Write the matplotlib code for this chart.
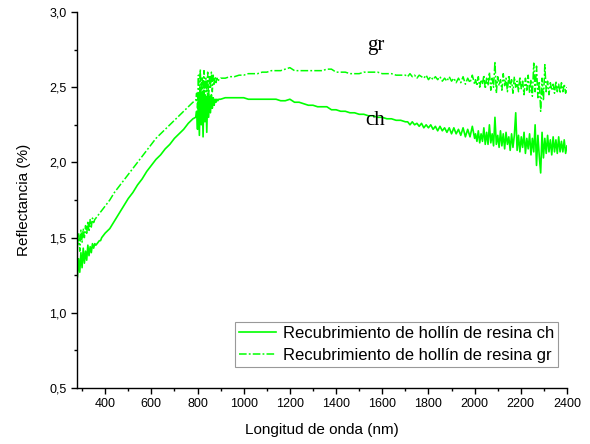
import numpy as np
import matplotlib
matplotlib.use("Agg")
import matplotlib.pyplot as plt
from matplotlib.ticker import MultipleLocator, FuncFormatter

# Reflectance spectra of resin-soot coatings (ch and gr samples).
# Wavelength sampling grid (nm), in instrument segments.
wl_a = np.arange(280, 401, 5)      # 280 .. 400
wl_b = np.arange(420, 781, 20)     # 420 .. 780
wl_c = np.arange(792, 901, 4)      # 792 .. 900 (detector change-over)
wl_d = np.arange(920, 1701, 20)    # 920 .. 1700
wl_e = np.arange(1710, 2001, 10)   # 1710 .. 2000
wl_f = np.arange(2004, 2401, 6)    # 2004 .. 2400

gr_a = [1.44, 1.53, 1.41, 1.55, 1.47, 1.56, 1.50, 1.58, 1.52, 1.61,
        1.54, 1.62, 1.57, 1.63, 1.60, 1.62, 1.63, 1.64, 1.65, 1.66,
        1.67, 1.68, 1.69, 1.70, 1.71]
ch_a = [1.24, 1.36, 1.27, 1.40, 1.30, 1.43, 1.33, 1.41, 1.35, 1.45,
        1.38, 1.44, 1.40, 1.46, 1.43, 1.46, 1.45, 1.46, 1.47, 1.48,
        1.48, 1.50, 1.51, 1.52, 1.53]

gr_b = [1.75, 1.80, 1.84, 1.88, 1.92, 1.96, 2.00, 2.04, 2.08, 2.12,
        2.16, 2.19, 2.22, 2.25, 2.28, 2.31, 2.34, 2.37, 2.40]
ch_b = [1.56, 1.61, 1.66, 1.71, 1.76, 1.80, 1.85, 1.89, 1.94, 1.98,
        2.02, 2.05, 2.09, 2.12, 2.16, 2.19, 2.22, 2.26, 2.29]

gr_c = [2.41, 2.46, 2.36, 2.58, 2.33, 2.62, 2.40, 2.57, 2.44, 2.61,
        2.38, 2.56, 2.47, 2.60, 2.43, 2.58, 2.49, 2.60, 2.47, 2.58,
        2.52, 2.57, 2.53, 2.56, 2.54, 2.55, 2.55, 2.56]
ch_c = [2.30, 2.34, 2.22, 2.45, 2.18, 2.50, 2.25, 2.46, 2.17, 2.48,
        2.27, 2.44, 2.20, 2.46, 2.30, 2.44, 2.33, 2.45, 2.36, 2.43,
        2.38, 2.42, 2.40, 2.42, 2.41, 2.42, 2.42, 2.42]

gr_d = [2.56, 2.57, 2.57, 2.58, 2.58, 2.59, 2.59, 2.59, 2.60, 2.60,
        2.61, 2.61, 2.61, 2.62, 2.63, 2.61, 2.61, 2.61, 2.61, 2.61,
        2.61, 2.61, 2.62, 2.62, 2.60, 2.60, 2.60, 2.59, 2.59, 2.59,
        2.60, 2.60, 2.60, 2.60, 2.59, 2.59, 2.59, 2.58, 2.58, 2.58]
ch_d = [2.43, 2.43, 2.43, 2.43, 2.43, 2.42, 2.42, 2.42, 2.42, 2.42,
        2.42, 2.42, 2.41, 2.41, 2.42, 2.40, 2.40, 2.39, 2.38, 2.38,
        2.37, 2.37, 2.37, 2.35, 2.35, 2.34, 2.34, 2.33, 2.33, 2.32,
        2.32, 2.31, 2.31, 2.30, 2.30, 2.29, 2.29, 2.28, 2.28, 2.27]

gr_e = [2.57, 2.59, 2.57, 2.58, 2.56, 2.58, 2.57, 2.56, 2.58, 2.55,
        2.57, 2.55, 2.57, 2.55, 2.57, 2.54, 2.56, 2.54, 2.57, 2.54,
        2.56, 2.53, 2.56, 2.53, 2.57, 2.52, 2.56, 2.53, 2.58, 2.52]
ch_e = [2.27, 2.25, 2.27, 2.25, 2.26, 2.24, 2.26, 2.23, 2.25, 2.23,
        2.25, 2.22, 2.24, 2.21, 2.24, 2.21, 2.23, 2.20, 2.23, 2.19,
        2.23, 2.19, 2.22, 2.18, 2.23, 2.17, 2.22, 2.17, 2.24, 2.16]

gr_f = [2.55, 2.51, 2.57, 2.50, 2.55, 2.52, 2.58, 2.49, 2.56, 2.51,
        2.60, 2.48, 2.56, 2.50, 2.67, 2.46, 2.57, 2.51, 2.55, 2.48,
        2.59, 2.51, 2.56, 2.47, 2.58, 2.50, 2.55, 2.46, 2.57, 2.50,
        2.54, 2.47, 2.57, 2.49, 2.54, 2.45, 2.56, 2.48, 2.58, 2.46,
        2.55, 2.44, 2.66, 2.47, 2.64, 2.43, 2.54, 2.34, 2.56, 2.41,
        2.65, 2.47, 2.54, 2.45, 2.53, 2.48, 2.52, 2.46, 2.54, 2.47,
        2.52, 2.46, 2.53, 2.47, 2.52, 2.46, 2.50]
ch_f = [2.19, 2.14, 2.21, 2.13, 2.19, 2.14, 2.23, 2.12, 2.20, 2.12,
        2.25, 2.13, 2.19, 2.11, 2.30, 2.12, 2.18, 2.10, 2.21, 2.11,
        2.19, 2.09, 2.20, 2.12, 2.17, 2.08, 2.19, 2.10, 2.18, 2.33,
        2.08, 2.18, 2.07, 2.17, 2.10, 2.20, 2.06, 2.16, 2.09, 2.19,
        2.05, 2.16, 2.07, 2.25, 1.98, 2.18, 2.04, 1.93, 2.20, 2.03,
        2.16, 2.06, 2.18, 2.07, 2.15, 2.05, 2.17, 2.07, 2.15, 2.06,
        2.17, 2.07, 2.14, 2.07, 2.15, 2.06, 2.11]

wavelength = np.concatenate([wl_a, wl_b, wl_c, wl_d, wl_e, wl_f])
refl_ch = np.concatenate([ch_a, ch_b, ch_c, ch_d, ch_e, ch_f])
refl_gr = np.concatenate([gr_a, gr_b, gr_c, gr_d, gr_e, gr_f])
assert len(wavelength) == len(refl_ch) == len(refl_gr)

label_ch = "Recubrimiento de hollín de resina ch"
label_gr = "Recubrimiento de hollín de resina gr"

plt.rcParams["font.family"] = ["Liberation Sans", "DejaVu Sans"]

fig = plt.figure(figsize=(5.9, 4.44), dpi=100)
ax = fig.add_axes([0.1305, 0.126, 0.8305, 0.847])

green = "#00ff00"
ax.plot(wavelength, refl_ch, color=green, lw=1.2, ls="-", label=label_ch)
ax.plot(wavelength, refl_gr, color=green, lw=1.1, ls=(0, (5, 1.4, 1.2, 1.4)),
        label=label_gr)

ax.set_xlim(278, 2400)
ax.set_ylim(0.5, 3.0)
ax.xaxis.set_major_locator(MultipleLocator(200))
ax.xaxis.set_minor_locator(MultipleLocator(100))
ax.yaxis.set_major_locator(MultipleLocator(0.5))
ax.yaxis.set_minor_locator(MultipleLocator(0.25))
ax.yaxis.set_major_formatter(FuncFormatter(lambda v, p: f"{v:.1f}".replace(".", ",")))
ax.xaxis.set_major_formatter(FuncFormatter(lambda v, p: f"{v:.0f}"))

for side in ("top", "right"):
    ax.spines[side].set_visible(False)
for side in ("left", "bottom"):
    ax.spines[side].set_linewidth(1.0)

ax.tick_params(which="major", direction="out", length=4.5, width=1.0,
               labelsize=9, colors="black", pad=3)
ax.tick_params(which="minor", direction="out", length=2.5, width=1.0)

ax.set_xlabel("Longitud de onda (nm)", fontsize=11, labelpad=9)
ax.set_ylabel("Reflectancia (%)", fontsize=11, labelpad=13)

ax.text(1570, 2.78, "gr", family=["Liberation Serif", "DejaVu Serif"],
        fontsize=15, ha="center", va="center")
ax.text(1570, 2.28, "ch", family=["Liberation Serif", "DejaVu Serif"],
        fontsize=15, ha="center", va="center")

leg = ax.legend(loc="lower right", bbox_to_anchor=(0.982, 0.056), fontsize=12,
                frameon=True, fancybox=False, edgecolor="#808080",
                handlelength=2.2, handletextpad=0.4, borderpad=0.25,
                labelspacing=0.42, borderaxespad=0.0)
leg.get_frame().set_linewidth(0.8)

fig.savefig("out.png", dpi=100)
